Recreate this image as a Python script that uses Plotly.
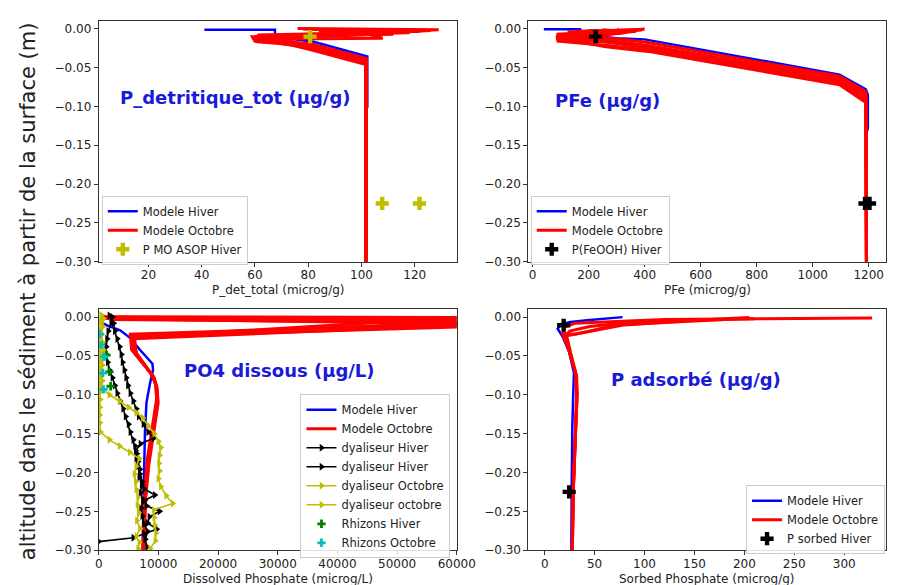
import plotly.graph_objects as go

W, H = 898, 585

# ---------------- P_detritique_tot (top-left) ----------------
pdet_hiv_x = [41.0, 67.5, 67.5, 82.0, 102.2, 102.2, 101.8, 101.8]
pdet_hiv_y = [-0.001, -0.001, -0.010, -0.0165, -0.0355, -0.100, -0.105, -0.30]
pdet_oct_x = [
    [76, 129, 59, 60, 81, 101.7, 101.7],
    [80, 122, 60, 61, 81, 101.7, 101.7],
    [88, 118, 62, 63, 81, 101.7, 101.7],
    [95, 112, 65, 66, 81, 101.7, 101.7],
    [100, 108, 70, 72, 82, 101.7, 101.7],
    [84, 126, 60, 62, 81, 101.7, 101.7],
    [78, 116, 61, 64, 81, 101.7, 101.7],
]
pdet_oct_y = [
    [0.0005, -0.001, -0.010, -0.016, -0.019, -0.038, -0.30],
    [-0.0005, -0.003, -0.012, -0.0165, -0.022, -0.041, -0.30],
    [-0.001, -0.005, -0.009, -0.015, -0.025, -0.044, -0.30],
    [-0.002, -0.007, -0.011, -0.014, -0.027, -0.046, -0.30],
    [-0.004, -0.012, -0.013, -0.016, -0.021, -0.043, -0.30],
    [-0.003, -0.002, -0.014, -0.015, -0.023, -0.040, -0.30],
    [0.0, -0.004, -0.008, -0.013, -0.020, -0.039, -0.30],
]
pmo_x = [80.7, 107.8, 121.8]
pmo_y = [-0.010, -0.225, -0.225]

# ---------------- PFe (top-right) ----------------
pfe_hiv_x = [40, 170, 175, 300, 400, 1096, 1190, 1197, 1197, 1192, 1192]
pfe_hiv_y = [-0.0005, -0.0005, -0.008, -0.012, -0.0135, -0.059, -0.078, -0.085, -0.128, -0.135, -0.30]
pfe_oct_x = [
    [125, 400, 85, 252, 402, 1096, 1190, 1192],
    [160, 390, 83, 255, 405, 1096, 1190, 1192],
    [200, 370, 84, 258, 408, 1096, 1190, 1192],
    [250, 340, 86, 260, 410, 1096, 1190, 1192],
    [300, 330, 90, 262, 412, 1096, 1190, 1192],
]
pfe_oct_y = [
    [-0.004, -0.0005, -0.007, -0.011, -0.017, -0.061, -0.081, -0.30],
    [-0.003, -0.0015, -0.010, -0.014, -0.021, -0.064, -0.084, -0.30],
    [-0.002, -0.003, -0.013, -0.017, -0.024, -0.067, -0.088, -0.30],
    [-0.001, -0.004, -0.0155, -0.021, -0.027, -0.070, -0.092, -0.30],
    [-0.0005, -0.005, -0.012, -0.023, -0.029, -0.072, -0.095, -0.30],
]
pfeooh_x = [225, 1187, 1203]
pfeooh_y = [-0.010, -0.225, -0.225]

# ---------------- PO4 dissous (bottom-left) ----------------
po4_hiv_x = [4300, 1000, 200, 1500, 3600, 5300, 6900, 9000, 9100, 8600, 8000, 7750, 7600, 7450, 7350]
po4_hiv_y = [0.0, -0.002, -0.006, -0.011, -0.017, -0.027, -0.042, -0.060, -0.068, -0.085, -0.11, -0.148, -0.20, -0.26, -0.30]
po4_oct_x = [
    [400, 90000, 5300, 5500, 8700, 9500, 9700, 8800, 8100, 7700, 7400],
    [800, 70000, 5500, 5800, 8900, 9600, 9800, 8900, 8200, 7750, 7450],
    [1200, 53000, 5600, 6100, 9100, 9700, 9900, 9000, 8300, 7800, 7500],
    [1600, 65000, 5800, 6400, 9300, 9800, 9950, 9100, 8400, 7850, 7550],
    [2000, 80000, 6000, 6200, 9000, 9650, 9850, 8950, 8250, 7780, 7480],
]
po4_oct_y = [
    [0.0005, -0.001, -0.022, -0.042, -0.072, -0.085, -0.105, -0.148, -0.185, -0.230, -0.30],
    [0.0, -0.004, -0.024, -0.044, -0.074, -0.088, -0.107, -0.150, -0.187, -0.232, -0.30],
    [-0.001, -0.004, -0.026, -0.046, -0.076, -0.090, -0.109, -0.152, -0.190, -0.235, -0.30],
    [-0.002, -0.009, -0.028, -0.048, -0.078, -0.092, -0.111, -0.154, -0.190, -0.235, -0.30],
    [-0.003, -0.008, -0.025, -0.045, -0.075, -0.089, -0.108, -0.151, -0.188, -0.233, -0.30],
]
dyal_hiv1_x = [1800, 2500, 2700, 3100, 3500, 3800, 4000, 4300, 4600, 4900, 5300, 5800, 6300, 6700, 7500, 8300,
               9200, 7000, 6200, 6300, 6500, 6900, 7300, 7600, 9400, 7700, 8000, 10200, 8500, 8200, 9700, 7600,
               5800, 0]
dyal_hiv1_y = [0.002, -0.008, -0.018, -0.028, -0.038, -0.048, -0.058, -0.068, -0.078, -0.088, -0.098, -0.108,
               -0.118, -0.128, -0.138, -0.148, -0.156, -0.163, -0.172, -0.182, -0.192, -0.202, -0.212, -0.221,
               -0.229, -0.236, -0.243, -0.250, -0.257, -0.265, -0.273, -0.279, -0.284, -0.289]
dyal_hiv2_x = [2300, 2100, 1600, 1400, 1250, 1300, 1500, 1800, 2300, 2700, 3100, 3600, 4100, 4500, 5000, 5300,
               5800, 6100, 6400, 6600, 6900, 6800, 7200, 7000, 7400, 7100, 7300, 7600, 8200, 7800, 8100]
dyal_hiv2_y = [0.0, -0.008, -0.018, -0.028, -0.038, -0.048, -0.058, -0.068, -0.078, -0.088, -0.098, -0.108,
               -0.118, -0.128, -0.138, -0.148, -0.158, -0.166, -0.176, -0.186, -0.196, -0.206, -0.216, -0.226,
               -0.236, -0.246, -0.256, -0.266, -0.276, -0.286, -0.296]
dyal_oct1_x = [400, 300, 200, 150, 200, 300, 250, 150, 200, 250, 300, 250, 200, 150, 200, 300, 1800, 3500,
               5200, 6800, 6300, 6000, 6200, 6300, 6600, 6500, 6700, 6400, 6900, 6300, 6800, 6600]
dyal_oct1_y = [0.003, -0.006, -0.016, -0.026, -0.036, -0.046, -0.056, -0.066, -0.076, -0.086, -0.096, -0.106,
               -0.116, -0.126, -0.136, -0.148, -0.158, -0.166, -0.174, -0.182, -0.192, -0.202, -0.212, -0.222,
               -0.232, -0.242, -0.252, -0.262, -0.272, -0.282, -0.290, -0.298]
dyal_oct2_x = [800, 700, 500, 600, 800, 700, 600, 500, 600, 500, 1800, 3500, 5000, 6300, 7400, 8300, 9300,
               10000, 10400, 10200, 10100, 10200, 10000, 10400, 11300, 12400, 9200, 9300, 9400, 9600, 9500, 8600]
dyal_oct2_y = [-0.002, -0.012, -0.022, -0.032, -0.042, -0.052, -0.062, -0.072, -0.082, -0.092, -0.100, -0.108,
               -0.116, -0.123, -0.130, -0.140, -0.150, -0.160, -0.168, -0.178, -0.188, -0.198, -0.208, -0.218,
               -0.230, -0.240, -0.248, -0.258, -0.268, -0.278, -0.288, -0.298]
rhiz_hiv_x = [1300, 1800, 2000]
rhiz_hiv_y = [-0.049, -0.0705, -0.089]
rhiz_oct_x = [150, 400, 900, 700, 800]
rhiz_oct_y = [-0.022, -0.036, -0.051, -0.072, -0.093]

# ---------------- P adsorbe (bottom-right) ----------------
pads_hiv_x = [78, 58.6, 42.3, 26, 16.3, 13, 17.9, 24.4, 29.3, 28.6, 27.7, 27, 26.7]
pads_hiv_y = [0.0, -0.002, -0.004, -0.0064, -0.009, -0.015, -0.025, -0.0446, -0.072, -0.098, -0.14, -0.225, -0.30]
pads_oct_x = [
    [328, 120, 30, 20, 18, 24, 31, 32, 31, 30, 28.6, 27.7],
    [210, 90, 45, 25, 20, 25, 31.5, 32.5, 31.2, 30, 28.6, 27.7],
    [205, 150, 80, 40, 22, 26, 32, 32.5, 31, 29.8, 28.4, 27.5],
    [180, 70, 49, 30, 19, 25, 31, 32, 31, 30, 28.6, 27.7],
]
pads_oct_y = [
    [-0.001, -0.003, -0.008, -0.013, -0.022, -0.042, -0.072, -0.098, -0.14, -0.183, -0.225, -0.30],
    [-0.002, -0.006, -0.012, -0.018, -0.025, -0.045, -0.075, -0.100, -0.14, -0.183, -0.225, -0.30],
    [-0.0005, -0.004, -0.010, -0.020, -0.024, -0.046, -0.076, -0.100, -0.14, -0.183, -0.225, -0.30],
    [-0.003, -0.010, -0.017, -0.022, -0.021, -0.044, -0.074, -0.099, -0.14, -0.183, -0.225, -0.30],
]
psorb_x = [19, 24.5]
psorb_y = [-0.0105, -0.225]

y_ticks = [0.0, -0.05, -0.10, -0.15, -0.20, -0.25, -0.30]

BLUE = "#0000ff"
RED = "#ff0000"
OLIVE = "#bfbf00"
FONT = "DejaVu Sans"

fig = go.Figure()


def add_model(xs_h, ys_h, xs_o, ys_o, xa, ya, leg):
    fig.add_trace(go.Scatter(x=xs_h, y=ys_h, mode="lines", line=dict(color=BLUE, width=2.5),
                             name="Modele Hiver", xaxis=xa, yaxis=ya, legend=leg))
    for i, (xo, yo) in enumerate(zip(xs_o, ys_o)):
        fig.add_trace(go.Scatter(x=xo, y=yo, mode="lines", line=dict(color=RED, width=3),
                                 name="Modele Octobre", showlegend=(i == 0),
                                 xaxis=xa, yaxis=ya, legend=leg))


# top-left
add_model(pdet_hiv_x, pdet_hiv_y, pdet_oct_x, pdet_oct_y, "x", "y", "legend")
fig.add_trace(go.Scatter(x=pmo_x, y=pmo_y, mode="markers", name="P MO ASOP Hiver",
                         marker=dict(symbol="cross", size=11, color=OLIVE), xaxis="x", yaxis="y",
                         legend="legend"))
# top-right
add_model(pfe_hiv_x, pfe_hiv_y, pfe_oct_x, pfe_oct_y, "x2", "y2", "legend2")
fig.add_trace(go.Scatter(x=pfeooh_x, y=pfeooh_y, mode="markers", name="P(FeOOH) Hiver",
                         marker=dict(symbol="cross", size=11, color="black"), xaxis="x2", yaxis="y2",
                         legend="legend2"))
# bottom-left
add_model(po4_hiv_x, po4_hiv_y, po4_oct_x, po4_oct_y, "x3", "y3", "legend3")
for xs, ys, col, nm in [(dyal_hiv1_x, dyal_hiv1_y, "black", "dyaliseur Hiver"),
                        (dyal_hiv2_x, dyal_hiv2_y, "black", "dyaliseur Hiver"),
                        (dyal_oct1_x, dyal_oct1_y, OLIVE, "dyaliseur Octobre"),
                        (dyal_oct2_x, dyal_oct2_y, OLIVE, "dyaliseur octobre")]:
    fig.add_trace(go.Scatter(x=xs, y=ys, mode="lines+markers", name=nm,
                             line=dict(color=col, width=1.6),
                             marker=dict(symbol="triangle-right", size=7, color=col),
                             xaxis="x3", yaxis="y3", legend="legend3"))
fig.add_trace(go.Scatter(x=rhiz_hiv_x, y=rhiz_hiv_y, mode="markers", name="Rhizons Hiver",
                         marker=dict(symbol="cross", size=7, color="#008000"), xaxis="x3", yaxis="y3",
                         legend="legend3"))
fig.add_trace(go.Scatter(x=rhiz_oct_x, y=rhiz_oct_y, mode="markers", name="Rhizons Octobre",
                         marker=dict(symbol="cross", size=7, color="#00bfbf"), xaxis="x3", yaxis="y3",
                         legend="legend3"))
# bottom-right
add_model(pads_hiv_x, pads_hiv_y, pads_oct_x, pads_oct_y, "x4", "y4", "legend4")
fig.add_trace(go.Scatter(x=psorb_x, y=psorb_y, mode="markers", name="P sorbed Hiver",
                         marker=dict(symbol="cross", size=11, color="black"), xaxis="x4", yaxis="y4",
                         legend="legend4"))


def px_x(p):
    return p / W


def px_y(p):
    return 1 - p / H


axis_common = dict(showline=True, mirror=True, linecolor="#333", linewidth=1, ticks="outside",
                   ticklen=4, tickwidth=1, tickcolor="#333", showgrid=False, zeroline=False,
                   tickfont=dict(family=FONT, size=12, color="#222"))


def xaxis(d0, d1, rng, ticks, anchor):
    return dict(domain=[px_x(d0), px_x(d1)], range=rng, tickvals=ticks, tickformat="d",
                anchor=anchor, ticklabelstandoff=-2, **axis_common)


def yaxis(t0, t1, anchor):
    return dict(domain=[px_y(t1), px_y(t0)], range=[-0.30, 0.01], tickvals=y_ticks, tickformat=".2f",
                anchor=anchor, **axis_common)


legend_common = dict(bgcolor="rgba(255,255,255,0.85)", bordercolor="#cccccc", borderwidth=1,
                     font=dict(family=FONT, size=11.5, color="#222"), yanchor="top",
                     tracegroupgap=0, itemwidth=30)

fig.update_layout(
    width=W, height=H, margin=dict(l=0, r=0, t=0, b=0),
    paper_bgcolor="white", plot_bgcolor="white",
    xaxis=xaxis(89, 457, [1.3, 136], [20, 40, 60, 80, 100, 120], "y"),
    yaxis=yaxis(13.3, 256.7, "x"),
    xaxis2=xaxis(530, 897, [-15, 1262], [0, 200, 400, 600, 800, 1000, 1200], "y2"),
    yaxis2=yaxis(13.3, 256.7, "x2"),
    xaxis3=xaxis(89, 456.5, [0, 60000], [0, 10000, 20000, 30000, 40000, 50000, 60000], "y3"),
    yaxis3=yaxis(305, 548.7, "x3"),
    xaxis4=xaxis(530, 896.7, [-16.3, 341.6], [0, 50, 100, 150, 200, 250, 300], "y4"),
    yaxis4=yaxis(305, 548.7, "x4"),
    legend=dict(x=px_x(242), y=px_y(190), xanchor="right", **legend_common),
    legend2=dict(x=px_x(675), y=px_y(190), xanchor="right", **legend_common),
    legend3=dict(x=px_x(450), y=px_y(391), xanchor="right", **legend_common),
    legend4=dict(x=px_x(896), y=px_y(483), xanchor="right", **legend_common),
)

annotations = []
# panel titles
for txt, cx, cy in [("P_detritique_tot (µg/g)", 229, 91), ("PFe (µg/g)", 611, 94),
                    ("PO4 dissous (µg/L)", 275, 367), ("P adsorbé (µg/g)", 702, 376)]:
    annotations.append(dict(text=txt, x=px_x(cx), y=px_y(cy), xref="paper", yref="paper",
                            xanchor="center", yanchor="middle", showarrow=False,
                            font=dict(family=FONT, size=18, color="#1a1ad8", weight="bold")))
# x-axis titles
for txt, cx, cy in [("P_det_total (microg/g)", 273, 285), ("PFe (microg/g)", 713.5, 285),
                    ("Dissolved Phosphate (microg/L)", 273, 578), ("Sorbed Phosphate (microg/g)", 713, 578)]:
    annotations.append(dict(text=txt, x=px_x(cx), y=px_y(cy), xref="paper", yref="paper",
                            xanchor="center", yanchor="middle", showarrow=False,
                            font=dict(family=FONT, size=12, color="#222")))
# shared y label
annotations.append(dict(text="altitude dans le sédiment à partir de la surface (m)", x=px_x(16),
                        y=px_y(287), xref="paper", yref="paper", xanchor="center", yanchor="middle",
                        textangle=-90, showarrow=False,
                        font=dict(family=FONT, size=21, color="#222")))
fig.update_layout(annotations=annotations)

fig.write_html("out.html")
